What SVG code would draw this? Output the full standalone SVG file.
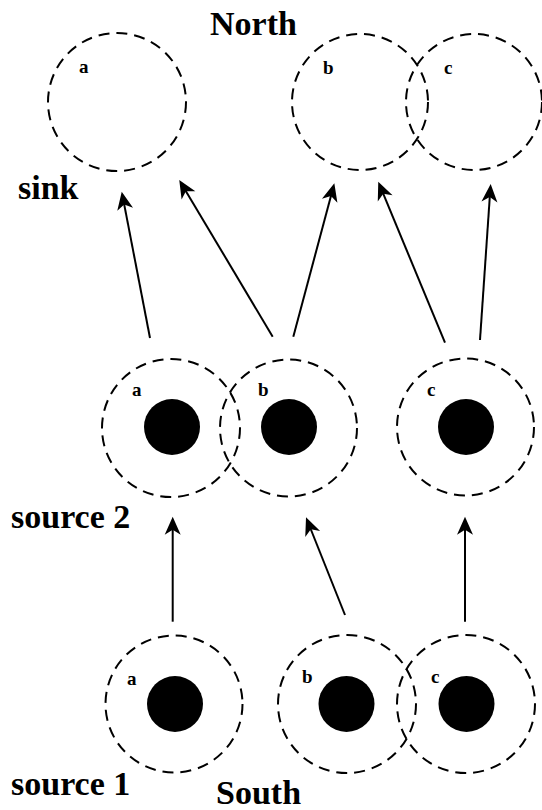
<svg xmlns="http://www.w3.org/2000/svg" width="542" height="810" viewBox="0 0 542 810">
  <style>
    .ring { fill: none; stroke: #000; stroke-width: 2; stroke-dasharray: 11 7; }
    .dot { fill: #000; }
    .tag { font-family: "Liberation Serif", "Times New Roman", serif; font-weight: bold; font-size: 19px; fill: #000; }
    .title { font-family: "Liberation Serif", "Times New Roman", serif; font-weight: bold; font-size: 34px; fill: #000; }
    .edge { stroke: #000; stroke-width: 2; fill: none; marker-end: url(#head); }
  </style>
  <defs>
    <marker id="head" markerUnits="userSpaceOnUse" viewBox="-16 -10 22 20" refX="0" refY="0" markerWidth="22" markerHeight="20" orient="auto">
      <path d="M4,0 L-14,-8 L-9,0 L-14,8 Z" fill="#000"/>
    </marker>
  </defs>

  <rect width="542" height="810" fill="#fff"/>

  <!-- row labels -->
  <g id="labels">
    <text class="title" x="210" y="35">North</text>
    <text class="title" x="18" y="199">sink</text>
    <text class="title" x="11" y="528">source 2</text>
    <text class="title" x="11" y="795">source 1</text>
    <text class="title" x="216" y="804">South</text>
  </g>

  <!-- sink row -->
  <g id="sink-a">
    <circle class="ring" cx="117" cy="102" r="69"/>
    <text class="tag" x="79" y="73">a</text>
  </g>
  <g id="sink-b">
    <circle class="ring" cx="360" cy="102" r="68"/>
    <text class="tag" x="323" y="74">b</text>
  </g>
  <g id="sink-c">
    <circle class="ring" cx="474" cy="102" r="68"/>
    <text class="tag" x="444" y="74">c</text>
  </g>

  <!-- source 2 row -->
  <g id="source2-a">
    <circle class="ring" cx="171" cy="428" r="69"/>
    <circle class="dot" cx="172" cy="427" r="28"/>
    <text class="tag" x="132" y="396">a</text>
  </g>
  <g id="source2-b">
    <circle class="ring" cx="288.5" cy="428" r="68.5"/>
    <circle class="dot" cx="289" cy="427" r="28"/>
    <text class="tag" x="258" y="396">b</text>
  </g>
  <g id="source2-c">
    <circle class="ring" cx="465.5" cy="427" r="68.5"/>
    <circle class="dot" cx="466" cy="427" r="28"/>
    <text class="tag" x="427" y="396">c</text>
  </g>

  <!-- source 1 row -->
  <g id="source1-a">
    <circle class="ring" cx="174" cy="704" r="68.5"/>
    <circle class="dot" cx="175" cy="704" r="28"/>
    <text class="tag" x="127" y="685">a</text>
  </g>
  <g id="source1-b">
    <circle class="ring" cx="347" cy="704" r="69"/>
    <circle class="dot" cx="346.5" cy="704" r="28"/>
    <text class="tag" x="302" y="683">b</text>
  </g>
  <g id="source1-c">
    <circle class="ring" cx="466" cy="704" r="69"/>
    <circle class="dot" cx="466.5" cy="704" r="28"/>
    <text class="tag" x="431" y="683">c</text>
  </g>

  <!-- connectors -->
  <g id="edges">
    <line class="edge" x1="150" y1="338" x2="122.5" y2="195.6"/>
    <line class="edge" x1="272.7" y1="336.7" x2="181.3" y2="183.4"/>
    <line class="edge" x1="293.3" y1="336.7" x2="333.3" y2="187.2"/>
    <line class="edge" x1="445" y1="342.7" x2="379.8" y2="185.4"/>
    <line class="edge" x1="480" y1="340" x2="490.4" y2="188"/>
    <line class="edge" x1="172.7" y1="621.7" x2="172.7" y2="520.7"/>
    <line class="edge" x1="345" y1="615" x2="307.5" y2="521"/>
    <line class="edge" x1="465" y1="621.7" x2="465" y2="520.7"/>
  </g>
</svg>
